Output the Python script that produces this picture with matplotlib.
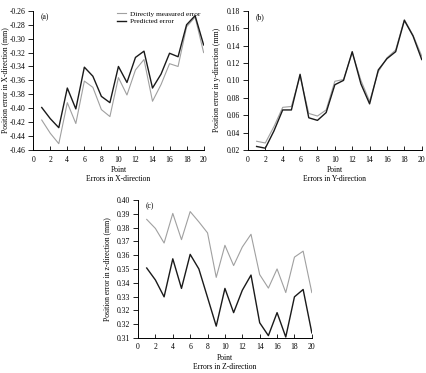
import numpy as np
import matplotlib
matplotlib.use("Agg")
import matplotlib.pyplot as plt

plt.rcParams['font.family'] = ['Liberation Serif', 'DejaVu Serif']
plt.rcParams['font.size'] = 5.5

points = np.arange(1, 21)

# (a) X-direction errors (mm)
x_measured = [-0.417, -0.436, -0.451, -0.392, -0.422, -0.361, -0.370, -0.402, -0.412, -0.356,
              -0.381, -0.345, -0.330, -0.390, -0.366, -0.336, -0.340, -0.283, -0.269, -0.320]
x_predicted = [-0.399, -0.415, -0.428, -0.371, -0.401, -0.341, -0.354, -0.383, -0.392, -0.340,
               -0.363, -0.327, -0.318, -0.371, -0.351, -0.321, -0.326, -0.280, -0.267, -0.309]

# (b) Y-direction errors (mm)
y_measured = [0.030, 0.028, 0.047, 0.069, 0.070, 0.105, 0.062, 0.059, 0.066, 0.099,
              0.101, 0.132, 0.100, 0.076, 0.110, 0.126, 0.135, 0.170, 0.152, 0.128]
y_predicted = [0.024, 0.022, 0.042, 0.066, 0.066, 0.107, 0.057, 0.054, 0.063, 0.095,
               0.100, 0.133, 0.096, 0.073, 0.112, 0.125, 0.133, 0.169, 0.151, 0.124]

# (c) Z-direction errors (mm)
z_measured = [0.3873, 0.3814, 0.3719, 0.3912, 0.3741, 0.3924, 0.3857, 0.3785, 0.3495, 0.3704,
              0.3572, 0.3693, 0.3776, 0.3513, 0.3425, 0.3550, 0.3396, 0.3627, 0.3666, 0.3396]
z_predicted = [0.3556, 0.3478, 0.3368, 0.3616, 0.3423, 0.3645, 0.3550, 0.3364, 0.3177, 0.3423,
               0.3265, 0.3411, 0.3510, 0.3199, 0.3115, 0.3265, 0.3106, 0.3368, 0.3416, 0.3133]

x_ticks = np.arange(0, 21, 2)
a_yticks = np.arange(-0.46, -0.2599, 0.02)
b_yticks = np.arange(0.02, 0.1801, 0.02)
c_yticks = np.linspace(0.31, 0.40, 11)
c_yticklabels = ['0.31', '0.32', '0.32', '0.33', '0.34', '0.35', '0.36', '0.37', '0.38', '0.39', '0.40']

fig = plt.figure(figsize=(4.26, 3.73), dpi=100)


def style_axes(ax):
    for s in ['top', 'right']:
        ax.spines[s].set_visible(False)
    for s in ['left', 'bottom']:
        ax.spines[s].set_linewidth(0.7)
    ax.tick_params(axis='y', direction='out', length=3.5, width=0.6, pad=2, labelsize=5.5)
    ax.tick_params(axis='x', direction='in', length=3, width=0.6, pad=4, labelsize=5.5)
    ax.set_xlim(0, 20)
    ax.set_xticks(x_ticks)


def draw_panel(rect, measured, predicted, yticks, ylim, ylabel, direction, tag, yticklabels=None, legend=False):
    ax = fig.add_axes(rect)
    ax.plot(points, measured, color='#a0a0a0', linewidth=0.8, label='Directly measured error')
    ax.plot(points, predicted, color='#1a1a1a', linewidth=1.0, label='Predicted error')
    style_axes(ax)
    ax.set_ylim(*ylim)
    ax.set_yticks(yticks)
    if yticklabels is not None:
        ax.set_yticklabels(yticklabels)
    else:
        ax.set_yticklabels([f'{v:.2f}' for v in yticks])
    ax.set_xlabel('Point\nErrors in ' + direction + '-direction', fontsize=5.5, labelpad=2, linespacing=1.1)
    ax.set_ylabel(ylabel, fontsize=5.5, labelpad=4)
    ax.text(0.045, 0.985, tag, transform=ax.transAxes, fontsize=5.5, va='top', ha='left')
    if legend:
        ax.legend(loc='upper right', frameon=False, fontsize=5.2, handlelength=1.3, handletextpad=0.6,
                  borderaxespad=0.0, labelspacing=0.2, bbox_to_anchor=(1.0, 1.02))
    return ax


ax_a = draw_panel([0.078, 0.598, 0.400, 0.373], x_measured, x_predicted, a_yticks, (-0.46, -0.26),
                  'Position error in X-direction (mm)', 'X', '(a)', legend=True)
ax_a.yaxis.set_label_coords(-0.14, 0.5)

ax_b = draw_panel([0.582, 0.598, 0.408, 0.373], y_measured, y_predicted, b_yticks, (0.02, 0.18),
                  'Position error in y-direction (mm)', 'Y', '(b)')

ax_c = draw_panel([0.324, 0.094, 0.408, 0.370], z_measured, z_predicted, c_yticks, (0.31, 0.40),
                  'Position error in z-direction (mm)', 'Z', '(c)', yticklabels=c_yticklabels)

fig.savefig('out.png', dpi=100)
